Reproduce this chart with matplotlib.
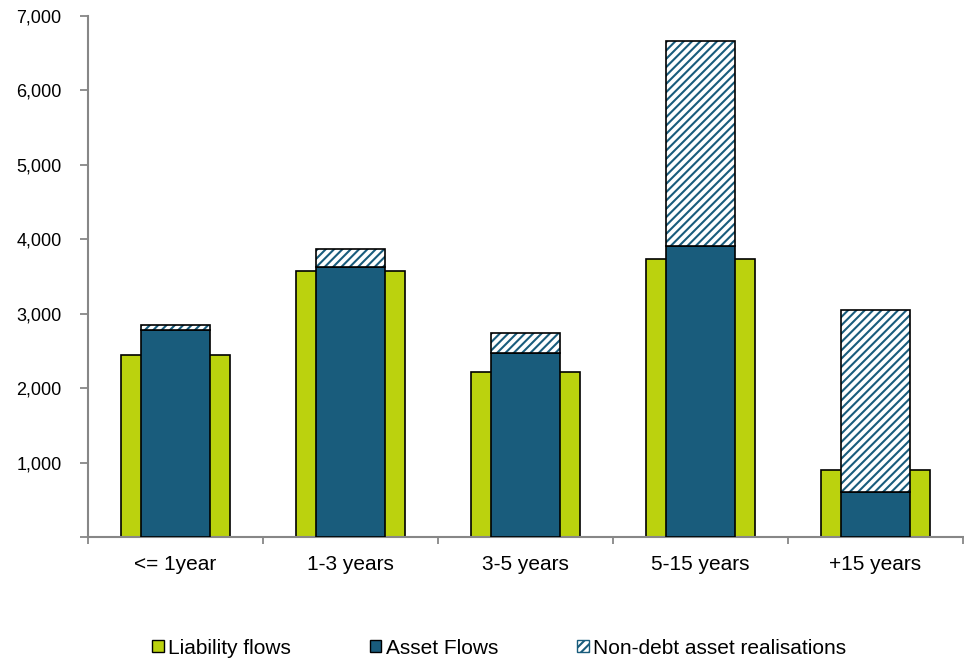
import numpy as np
import matplotlib
matplotlib.use('Agg')
import matplotlib.pyplot as plt
from matplotlib.patches import Patch
from matplotlib.ticker import FuncFormatter

plt.rcParams['font.family'] = ['Liberation Sans', 'DejaVu Sans']
plt.rcParams['hatch.linewidth'] = 1.5

# cash flows by maturity bucket
buckets = ['<= 1year', '1-3 years', '3-5 years', '5-15 years', '+15 years']
liability_flows = [2450, 3575, 2215, 3740, 900]
asset_flows = [2780, 3625, 2470, 3910, 605]
non_debt = [70, 240, 275, 2750, 2450]

green = '#BBD20E'
blue = '#195C7C'
grey = '#878787'

x = np.arange(len(buckets))

fig = plt.figure(figsize=(9.64, 6.58), dpi=100)
ax = fig.add_axes([88 / 964, 1 - 537 / 658, 875 / 964, 521 / 658])

ax.bar(x, liability_flows, width=0.62, color=green, edgecolor='black', linewidth=1.2, zorder=2)
ax.bar(x, asset_flows, width=0.39, color=blue, edgecolor='black', linewidth=1.2, zorder=3)
# hatched part drawn in blue, then outlined in black
ax.bar(x, non_debt, width=0.39, bottom=asset_flows, color='white', edgecolor=blue,
       hatch='////', linewidth=0, zorder=3)
ax.bar(x, non_debt, width=0.39, bottom=asset_flows, fill=False, edgecolor='black',
       linewidth=1.2, zorder=4)

ax.set_xlim(-0.5, len(buckets) - 0.5)
ax.set_ylim(0, 7000)
ax.set_yticks(np.arange(0, 7001, 1000))
ax.yaxis.set_major_formatter(FuncFormatter(lambda v, p: '' if v == 0 else f'{int(v):,}'))

ax.set_xticks(x)
ax.set_xticklabels(buckets)
ax.set_xticks(np.arange(-0.5, len(buckets)), minor=True)
ax.tick_params(axis='x', which='major', length=0, pad=13, labelsize=15)
ax.tick_params(axis='x', which='minor', length=5, width=1.3, color=grey)
ax.tick_params(axis='y', length=6, width=1.3, color=grey, labelsize=13, pad=13)

for side in ['top', 'right']:
    ax.spines[side].set_visible(False)
for side in ['left', 'bottom']:
    ax.spines[side].set_color(grey)
    ax.spines[side].set_linewidth(1.5)

handles = [
    Patch(facecolor=green, edgecolor='black', label='Liability flows'),
    Patch(facecolor=blue, edgecolor='black', label='Asset Flows'),
    Patch(facecolor='white', edgecolor=blue, hatch='////', label='Non-debt asset realisations'),
]
fig.legend(handles=handles, loc='center', bbox_to_anchor=(499 / 964, 1 - 648 / 658),
           ncol=3, frameon=False, fontsize=15, handlelength=0.55, handleheight=0.55,
           handletextpad=0.2, columnspacing=3.8)

fig.savefig('out.png', dpi=100)
